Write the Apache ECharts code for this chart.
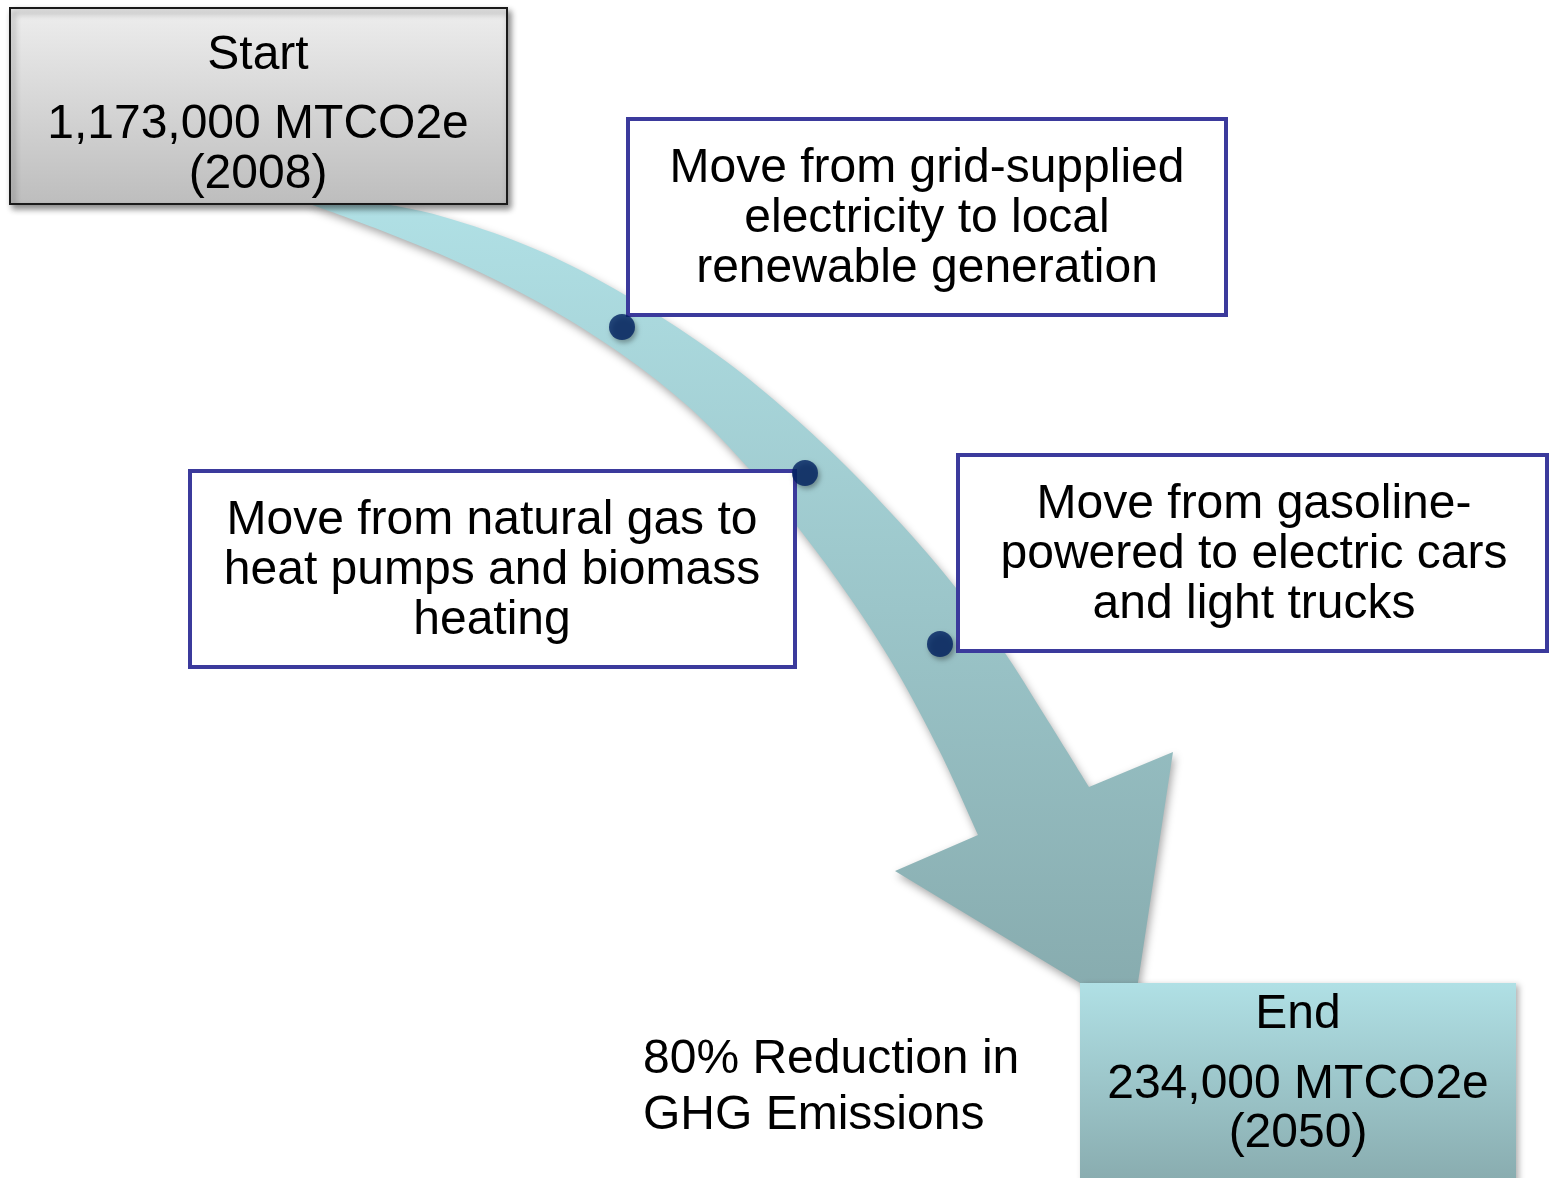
<!DOCTYPE html>
<html>
<head>
<meta charset="utf-8">
<script src="https://cdn.jsdelivr.net/npm/echarts@6/dist/echarts.min.js"></script>
<style>
  html, body { margin: 0; padding: 0; background: #fff; }
  #main { width: 1549px; height: 1178px; }
</style>
</head>
<body>
<div id="main"></div>
<script>
// texts
var startLines = ['Start', '1,173,000 MTCO2e', '(2008)'];
var endLines = ['End', '234,000 MTCO2e', '(2050)'];
var stepLines = [
  ['Move from grid-supplied', 'electricity to local', 'renewable generation'],
  ['Move from natural gas to', 'heat pumps and biomass', 'heating'],
  ['Move from gasoline-', 'powered to electric cars', 'and light trucks']
];
var noteLines = ['80% Reduction in', 'GHG Emissions'];

// milestone dots on the path
var milestoneX = [622, 805, 940];
var milestoneY = [327, 473, 644];

// arrow outline (same units as the axes)
var arrowOuterX = [380, 437, 513, 580, 650, 720, 780, 847, 913, 960, 1003, 1045, 1089];
var arrowOuterY = [203, 215, 240, 270, 310, 357, 405, 467, 537, 593, 650, 716, 787];
var arrowHeadX = [1173, 1133, 895];
var arrowHeadY = [752, 1015, 871];
var arrowInnerX = [978, 940, 895, 850, 800, 750, 690, 620, 540, 460, 380, 307];
var arrowInnerY = [835, 752, 668, 598, 530, 470, 408, 353, 303, 263, 230, 203];

// layout of boxes
var FONT = '48px "Liberation Sans", Arial, sans-serif';
var startBox = { x0: 10, y0: 8, x1: 507, y1: 204, cx: 258, lineY: [56, 125, 175] };
var endBox = { x0: 1080, y0: 983, x1: 1516, y1: 1185, cx: 1298, lineY: [1015, 1085, 1134] };
var stepBoxes = [
  { x0: 628, y0: 119, x1: 1226, y1: 315, cx: 927, lineY: [169, 219, 269] },
  { x0: 190, y0: 471, x1: 795, y1: 667, cx: 492, lineY: [521, 571, 621] },
  { x0: 958, y0: 455, x1: 1547, y1: 651, cx: 1254, lineY: [505, 555, 605] }
];
var noteX = 643, noteY = [1060, 1116];

function zip(xs, ys) {
  return xs.map(function (x, i) { return [x, ys[i]]; });
}

// catmull-rom through the points -> cubic bezier path segments
function curveTo(pts) {
  var d = '';
  for (var i = 0; i < pts.length - 1; i++) {
    var p0 = pts[i - 1] || pts[i], p1 = pts[i], p2 = pts[i + 1], p3 = pts[i + 2] || pts[i + 1];
    var c1 = [p1[0] + (p2[0] - p0[0]) / 6, p1[1] + (p2[1] - p0[1]) / 6];
    var c2 = [p2[0] - (p3[0] - p1[0]) / 6, p2[1] - (p3[1] - p1[1]) / 6];
    d += ' C' + c1[0] + ',' + c1[1] + ' ' + c2[0] + ',' + c2[1] + ' ' + p2[0] + ',' + p2[1];
  }
  return d;
}

function renderArrow(params, api) {
  var outer = zip(arrowOuterX, arrowOuterY).map(function (p) { return api.coord(p); });
  var inner = zip(arrowInnerX, arrowInnerY).map(function (p) { return api.coord(p); });
  var head = zip(arrowHeadX, arrowHeadY).map(function (p) { return api.coord(p); });
  var d = 'M' + outer[0][0] + ',' + outer[0][1] + curveTo(outer);
  head.forEach(function (p) { d += ' L' + p[0] + ',' + p[1]; });
  d += ' L' + inner[0][0] + ',' + inner[0][1] + curveTo(inner) + ' Z';
  return {
    type: 'path',
    shape: { pathData: d },
    style: {
      fill: new echarts.graphic.LinearGradient(0, 0, 0, 1, [
        { offset: 0, color: '#b0e0e5' },
        { offset: 1, color: '#86aaad' }
      ]),
      shadowBlur: 8,
      shadowOffsetX: 2,
      shadowOffsetY: 4,
      shadowColor: 'rgba(0,0,0,0.35)'
    }
  };
}

function textLines(cx, lineY, lines, api) {
  return lines.map(function (t, i) {
    var p = api.coord([cx, lineY[i]]);
    return {
      type: 'text',
      style: { text: t, x: p[0], y: p[1], align: 'center', verticalAlign: 'middle', font: FONT, fill: '#000' }
    };
  });
}

function boxRect(b, api) {
  var a = api.coord([b.x0, b.y0]);
  var c = api.coord([b.x1, b.y1]);
  return { x: a[0], y: a[1], width: c[0] - a[0], height: c[1] - a[1] };
}

function renderBox(params, api) {
  var i = api.value(2);
  var b, lines, style;
  if (i === 0) {
    b = startBox; lines = startLines;
    style = {
      fill: new echarts.graphic.LinearGradient(0, 0, 0, 1, [
        { offset: 0, color: '#eeeeee' }, { offset: 1, color: '#bdbdbd' }
      ]),
      stroke: '#1a1a1a', lineWidth: 2,
      shadowBlur: 6, shadowOffsetX: 3, shadowOffsetY: 4, shadowColor: 'rgba(0,0,0,0.45)'
    };
  } else if (i === 4) {
    b = endBox; lines = endLines;
    style = {
      fill: new echarts.graphic.LinearGradient(0, 0, 0, 1, [
        { offset: 0, color: '#b0e0e5' }, { offset: 1, color: '#88abae' }
      ]),
      shadowBlur: 6, shadowOffsetX: 3, shadowOffsetY: 2, shadowColor: 'rgba(0,0,0,0.3)'
    };
  } else {
    b = stepBoxes[i - 1]; lines = stepLines[i - 1];
    style = { fill: '#ffffff', stroke: '#3b3a9c', lineWidth: 4 };
  }
  return {
    type: 'group',
    children: [{ type: 'rect', shape: boxRect(b, api), style: style }].concat(textLines(b.cx, b.lineY, lines, api))
  };
}

function renderNote(params, api) {
  return {
    type: 'group',
    children: noteLines.map(function (t, i) {
      var p = api.coord([noteX, noteY[i]]);
      return {
        type: 'text',
        style: { text: t, x: p[0], y: p[1], align: 'left', verticalAlign: 'middle', font: FONT, fill: '#000' }
      };
    })
  };
}

var chart = echarts.init(document.getElementById('main'), null, { renderer: 'canvas' });
chart.setOption({
  animation: false,
  backgroundColor: '#ffffff',
  grid: { left: 0, right: 0, top: 0, bottom: 0 },
  xAxis: { type: 'value', min: 0, max: 1549, show: false },
  yAxis: { type: 'value', min: 0, max: 1178, inverse: true, show: false },
  series: [
    {
      name: 'path',
      type: 'custom',
      renderItem: renderArrow,
      data: [[0, 0]],
      z: 1,
      silent: true
    },
    {
      name: 'boxes',
      type: 'custom',
      renderItem: renderBox,
      data: [[0, 0, 0], [0, 0, 1], [0, 0, 2], [0, 0, 3], [0, 0, 4]],
      z: 2,
      silent: true
    },
    {
      name: 'note',
      type: 'custom',
      renderItem: renderNote,
      data: [[0, 0]],
      z: 2,
      silent: true
    },
    {
      name: 'milestones',
      type: 'scatter',
      data: zip(milestoneX, milestoneY),
      symbolSize: 26,
      itemStyle: {
        color: '#002060',
        shadowBlur: 5,
        shadowOffsetX: 2,
        shadowOffsetY: 3,
        shadowColor: 'rgba(0,0,0,0.4)'
      },
      z: 3,
      silent: true
    }
  ]
});
</script>
</body>
</html>
